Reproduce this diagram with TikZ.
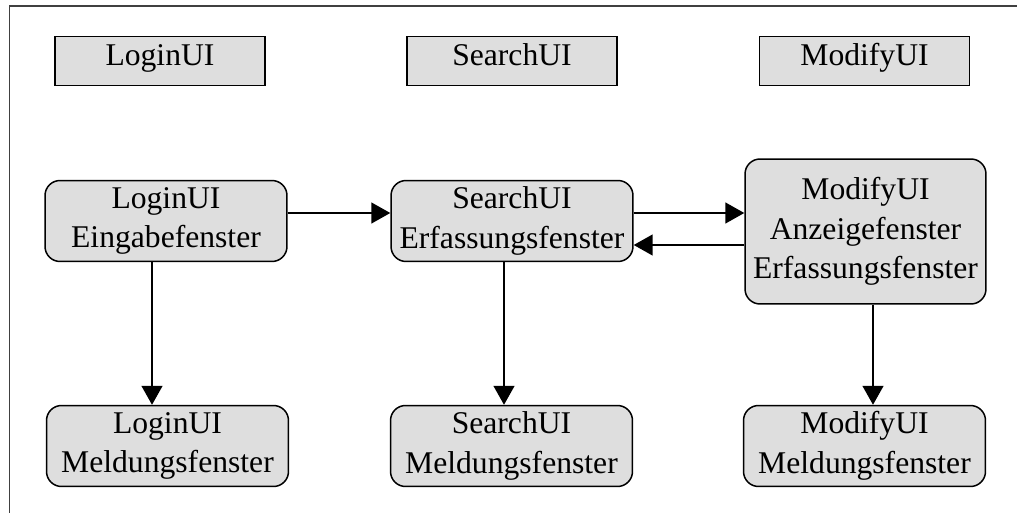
\documentclass[tikz,border=0pt]{standalone}
\usepackage{fontspec}
\setmainfont{Liberation Serif}
\usetikzlibrary{arrows.meta,positioning}

\begin{document}
\begin{tikzpicture}[x=0.02cm,y=-0.02cm,
    ui/.style={draw=black, line width=0.03cm, fill=black!13, minimum width=4.2cm, minimum height=0.98cm,
        inner sep=0pt, text height=1.55ex, text depth=0.45ex, font=\fontsize{18}{22}\selectfont},
    fenster/.style={draw=black, line width=0.03cm, fill=black!13, rounded corners=0.3cm, align=center,
        minimum width=4.84cm, minimum height=1.62cm, inner sep=0pt, font=\fontsize{18}{22.5}\selectfont},
    pfeil/.style={line width=0.03cm, -{Triangle[length=0.38cm,width=0.42cm]}}]
    \useasboundingbox (0,0) rectangle (1017,513);
    \draw[line width=0.04cm, black!75] (1017,6) -- (9.5,6) -- (9.5,513);

    % Kopfzeile
    \node[ui] (LUI) at (160,61) {LoginUI};
    \node[ui] (SUI) at (512,61) {SearchUI};
    \node[ui] (MUI) at (864.5,61) {ModifyUI};

    % Fenster
    \node[fenster] (LE) at (166,221) {LoginUI\\Eingabefenster};
    \node[fenster] (SE) at (512,221) {SearchUI\\Erfassungsfenster};
    \node[fenster, minimum width=4.82cm, minimum height=2.9cm] (ME) at (865.5,231.5)
        {ModifyUI\\Anzeigefenster\\Erfassungsfenster};

    \node[fenster] (LM) at (167.5,446) {LoginUI\\Meldungsfenster};
    \node[fenster] (SM) at (511.5,446) {SearchUI\\Meldungsfenster};
    \node[fenster] (MM) at (864.5,446) {ModifyUI\\Meldungsfenster};

    \draw[pfeil] ([yshift=0.16cm]LE.east) -- ([yshift=0.16cm]SE.west);
    \draw[pfeil] ([yshift=0.16cm]SE.east) -- ([yshift=0.16cm]SE.east -| ME.west);
    \draw[pfeil] ([yshift=-0.48cm]SE.east -| ME.west) -- ([yshift=-0.48cm]SE.east);

    \draw[pfeil] ([xshift=-0.28cm]LE.south) -- ([xshift=-0.28cm]LE.south |- LM.north);
    \draw[pfeil] ([xshift=-0.16cm]SE.south) -- ([xshift=-0.16cm]SE.south |- SM.north);
    \draw[pfeil] ([xshift=0.15cm]ME.south) -- ([xshift=0.15cm]ME.south |- MM.north);
\end{tikzpicture}
\end{document}
